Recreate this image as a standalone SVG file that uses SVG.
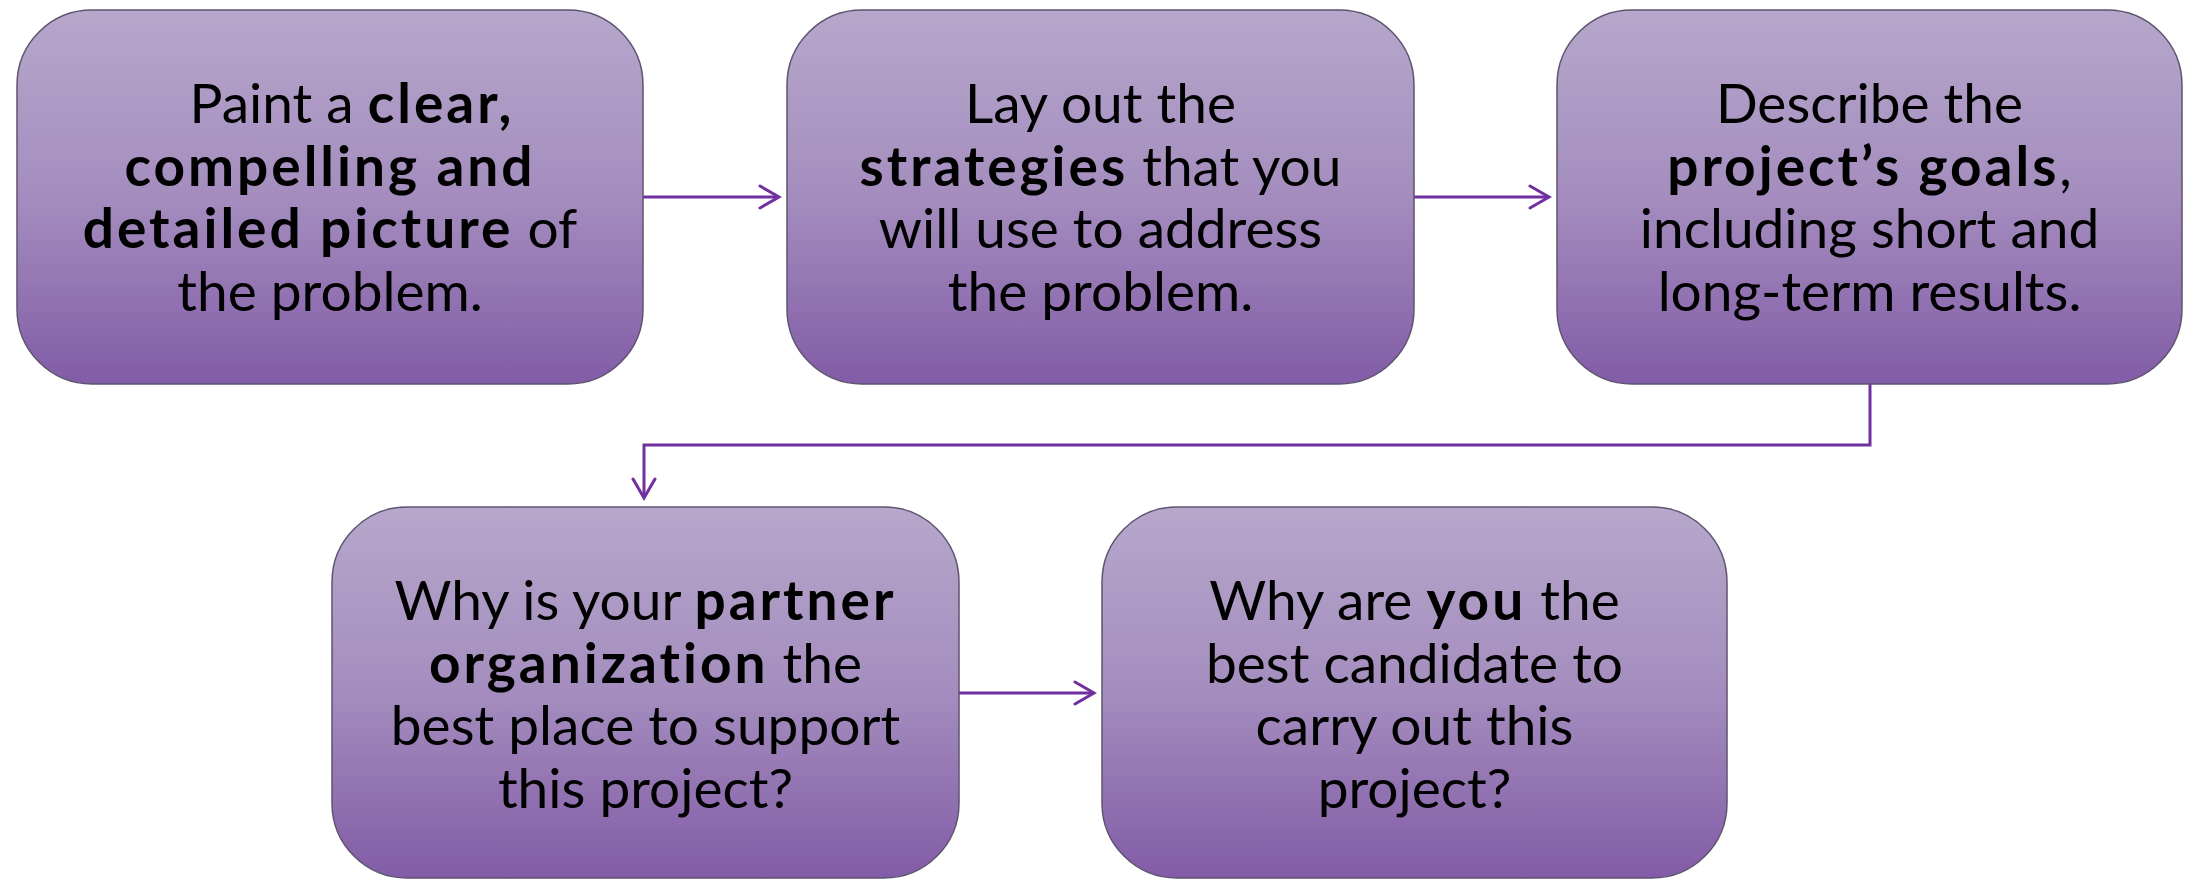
<svg xmlns="http://www.w3.org/2000/svg" width="2188" height="879" viewBox="0 0 2188 879">
<defs>
<linearGradient id="g" x1="0" y1="0" x2="0" y2="1">
<stop offset="0" stop-color="#B6A7CB"/>
<stop offset="0.5" stop-color="#A48DBE"/>
<stop offset="1" stop-color="#825CA7"/>
</linearGradient>
<marker id="ah" markerWidth="24" markerHeight="26" refX="21" refY="13" orient="auto" markerUnits="userSpaceOnUse">
<path d="M2,2 L21,13 L2,24" fill="none" stroke="#7030A0" stroke-width="3" stroke-linecap="round" stroke-linejoin="miter"/>
</marker>
</defs>
<style>
.box{fill:url(#g);stroke:#5E5470;stroke-width:1.5}
.t{font-family:"Lato","Open Sans","DejaVu Sans",sans-serif;font-size:55px;fill:#000;text-anchor:middle}
.b{font-weight:bold;letter-spacing:3px}
.c{fill:none;stroke:#7030A0;stroke-width:3}
</style>
<rect width="2188" height="879" fill="#FFFFFF"/>
<g id="connectors">
<line class="c" x1="643" y1="197" x2="779" y2="197" marker-end="url(#ah)"/>
<line class="c" x1="1414" y1="197" x2="1549" y2="197" marker-end="url(#ah)"/>
<polyline class="c" points="1870,384 1870,445 644,445 644,498" marker-end="url(#ah)"/>
<line class="c" x1="959" y1="693" x2="1094" y2="693" marker-end="url(#ah)"/>
</g>
<g id="node1">
<rect class="box" x="17" y="10" width="626" height="374" rx="75"/>
<text class="t"><tspan x="352" y="123">Paint a <tspan class="b">clear,</tspan></tspan><tspan class="b" x="330" y="185.5">compelling and</tspan><tspan x="330" y="248"><tspan class="b">detailed picture</tspan> of</tspan><tspan x="330" y="310.5">the problem.</tspan></text>
</g>
<g id="node2">
<rect class="box" x="787" y="10" width="627" height="374" rx="75"/>
<text class="t"><tspan x="1100.5" y="123">Lay out the</tspan><tspan x="1100.5" y="185.5"><tspan class="b">strategies</tspan> that you</tspan><tspan x="1100.5" y="248">will use to address</tspan><tspan x="1100.5" y="310.5">the problem.</tspan></text>
</g>
<g id="node3">
<rect class="box" x="1557" y="10" width="625" height="374" rx="75"/>
<text class="t"><tspan x="1869.5" y="123">Describe the</tspan><tspan x="1869.5" y="185.5"><tspan class="b">project’s goals</tspan>,</tspan><tspan x="1869.5" y="248">including short and</tspan><tspan x="1869.5" y="310.5">long-term results.</tspan></text>
</g>
<g id="node4">
<rect class="box" x="332" y="507" width="627" height="371" rx="75"/>
<text class="t"><tspan x="645.5" y="620">Why is your <tspan class="b">partner</tspan></tspan><tspan x="645.5" y="682.5"><tspan class="b">organization</tspan> the</tspan><tspan x="645.5" y="745">best place to support</tspan><tspan x="645.5" y="807.5">this project?</tspan></text>
</g>
<g id="node5">
<rect class="box" x="1102" y="507" width="625" height="371" rx="75"/>
<text class="t"><tspan x="1414.5" y="620">Why are <tspan class="b">you</tspan> the</tspan><tspan x="1414.5" y="682.5">best candidate to</tspan><tspan x="1414.5" y="745">carry out this</tspan><tspan x="1414.5" y="807.5">project?</tspan></text>
</g>
</svg>
